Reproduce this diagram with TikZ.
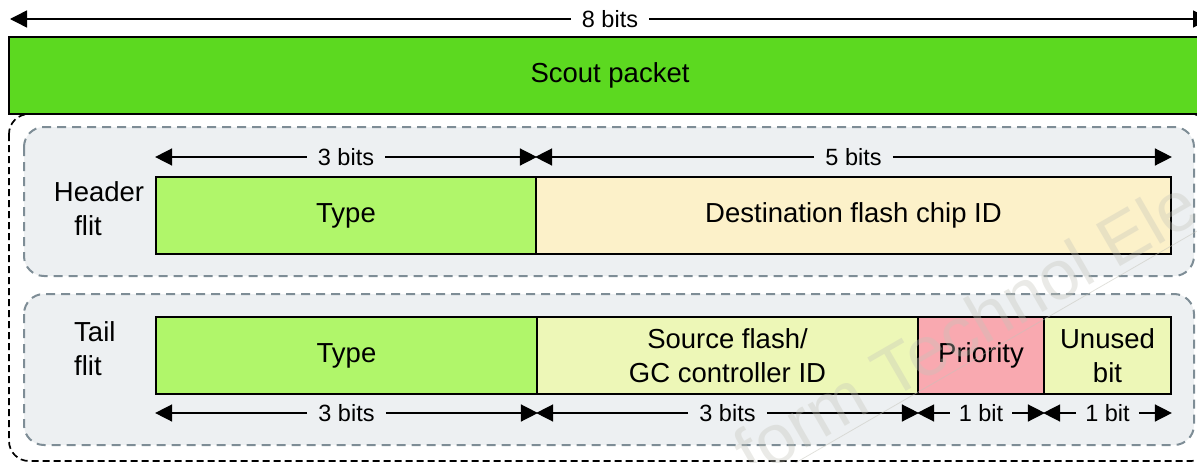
\documentclass[tikz,border=0pt]{standalone}
\usepackage{fontspec}
\setmainfont{Liberation Sans}
\usetikzlibrary{arrows.meta}

\definecolor{scoutgreen}{HTML}{5CD920}
\definecolor{typegreen}{HTML}{B0F66A}
\definecolor{destcream}{HTML}{FCF1C9}
\definecolor{srcyellow}{HTML}{EDF7B7}
\definecolor{prioritypink}{HTML}{F9A9B0}
\definecolor{flitfill}{HTML}{EDF0F2}
\definecolor{flitedge}{HTML}{7E8D96}
\definecolor{markgray}{HTML}{C4C4BA}

\newcommand{\bigfont}{\fontsize{27.5}{34}\selectfont}
\newcommand{\bitfont}{\fontsize{23.5}{28}\selectfont}

\tikzset{
  field/.style={draw=black, line width=1.8pt, minimum height=77pt,
    inner sep=0pt, align=center, font=\bigfont},
  dim/.style={-{Triangle[length=17pt,width=17pt]}, line width=1.5pt},
  bitlbl/.style={font=\bitfont, inner xsep=11pt, inner ysep=0pt},
  flitbox/.style={draw=flitedge, fill=flitfill, line width=2pt,
    dash pattern=on 9pt off 6pt, rounded corners=20pt},
  flitlbl/.style={font=\bigfont, inner sep=0pt},
}

\begin{document}
\begin{tikzpicture}[x=1pt, y=-1pt]
\useasboundingbox (0,0) rectangle (1197,463);
\clip (0,0) rectangle (1197,463);

% outer packet frame
\draw[line width=1.7pt, dash pattern=on 7pt off 4pt, rounded corners=20pt]
  (9,114) rectangle (1211,461);

% flit containers
\draw[flitbox] (24,127) rectangle (1194,276);
\draw[flitbox] (24,294) rectangle (1194,445);

% whole packet
\node[draw=black, line width=2pt, fill=scoutgreen, minimum width=1202pt,
  minimum height=77pt, inner sep=0pt, font=\bigfont] (scout) at (610,75.5) {Scout packet};

% total width dimension
\node[bitlbl] (w8) at (610,19) {8 bits};
\coordinate (w8l) at (10,19);
\coordinate (w8r) at (1210,19);
\draw[dim] (w8.west) -- (w8l);
\draw[dim] (w8.east) -- (w8r);

% header flit fields
\node[field, fill=typegreen, minimum width=380pt] (htype) at (346,215.5) {Type};
\node[field, fill=destcream, minimum width=635pt] (hdest) at (853.5,215.5) {Destination flash chip ID};
\node[flitlbl, align=center] (hlbl) at (99,209) {Header\\flit\hspace*{22pt}};

% header flit dimensions
\node[bitlbl] (h3) at (346,157) {3 bits};
\node[bitlbl] (h5) at (853.5,157) {5 bits};
\draw[dim] (h3.west) -- (h3.west -| htype.west);
\draw[dim] (h3.east) -- (h3.east -| htype.east);
\draw[dim] (h5.west) -- (h5.west -| hdest.west);
\draw[dim] (h5.east) -- (h5.east -| hdest.east);

% tail flit fields
\node[field, fill=typegreen, minimum width=381pt] (ttype) at (346.5,355.5) {Type};
\node[field, fill=srcyellow, minimum width=381pt] (tsrc) at (727.5,355.5) {Source flash/\\GC controller ID};
\node[field, fill=prioritypink, minimum width=126pt] (tpri) at (981,355.5) {Priority};
\node[field, fill=srcyellow, minimum width=127pt] (tunu) at (1107.5,355.5) {Unused\\bit};
\node[flitlbl, align=left, anchor=west] (tlbl) at (74,349) {Tail\\flit};

% tail flit dimensions
\node[bitlbl] (t3a) at (346.5,413) {3 bits};
\node[bitlbl] (t3b) at (727.5,413) {3 bits};
\node[bitlbl, inner xsep=9pt] (t1a) at (981,413) {1 bit};
\node[bitlbl, inner xsep=9pt] (t1b) at (1107.5,413) {1 bit};
\draw[dim] (t3a.west) -- (t3a.west -| ttype.west);
\draw[dim] (t3a.east) -- (t3a.east -| ttype.east);
\draw[dim] (t3b.west) -- (t3b.west -| tsrc.west);
\draw[dim] (t3b.east) -- (t3b.east -| tsrc.east);
\draw[dim] (t1a.west) -- (t1a.west -| tpri.west);
\draw[dim] (t1a.east) -- (t1a.east -| tpri.east);
\draw[dim] (t1b.west) -- (t1b.west -| tunu.west);
\draw[dim] (t1b.east) -- (t1b.east -| tunu.east);

% faint journal mark across the lower right, with its underline
\node[rotate=30, anchor=base west, inner xsep=0pt, inner ysep=6pt,
  text=markgray, opacity=0.35, font=\fontsize{70}{70}\selectfont] (mark) at (752,480) {form Technol Ele};
\draw[markgray, opacity=0.5, line width=0.8pt] (mark.south west) -- (mark.south east);
\end{tikzpicture}
\end{document}
